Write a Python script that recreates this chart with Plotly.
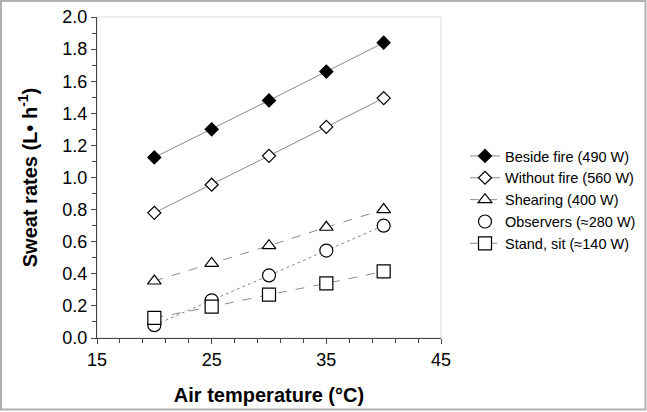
import plotly.graph_objects as go

temps = [20, 25, 30, 35, 40]
beside_fire = [1.125, 1.30, 1.48, 1.66, 1.84]
without_fire = [0.78, 0.955, 1.135, 1.315, 1.495]
shearing = [0.355, 0.465, 0.575, 0.69, 0.80]
observers = [0.08, 0.235, 0.39, 0.545, 0.70]
stand_sit = [0.125, 0.195, 0.27, 0.34, 0.415]

names = ["Beside fire (490 W)", "Without fire (560 W)", "Shearing (400 W)",
         "Observers (\u2248280 W)", "Stand, sit (\u2248140 W)"]

W, H = 647, 412
L, R, T, B = 97, 206, 17, 74
pw, ph = W - L - R, H - T - B

fig = go.Figure()
specs = [
    (beside_fire, "diamond", "black", 10, "solid"),
    (without_fire, "diamond", "white", 10, "solid"),
    (shearing, "triangle-up", "white", 12, "dash"),
    (observers, "circle", "white", 13, "dot"),
    (stand_sit, "square", "white", 13, "dash"),
]
for (vals, sym, fill, size, dash), name in zip(specs, names):
    if dash == "dot":
        # line drawn separately so the legend shows the marker only
        fig.add_trace(go.Scatter(x=temps, y=vals, mode="lines", showlegend=False,
                                 line=dict(color="#8c8c8c", width=1, dash=dash),
                                 hoverinfo="skip"))
        fig.add_trace(go.Scatter(
            x=temps, y=vals, name=name, mode="markers",
            marker=dict(symbol=sym, size=size, color=fill,
                        line=dict(color="black", width=1.2)),
        ))
        continue
    fig.add_trace(go.Scatter(
        x=temps, y=vals, name=name, mode="lines+markers",
        line=dict(color="#8c8c8c", width=1, dash=dash),
        marker=dict(symbol=sym, size=size, color=fill,
                    line=dict(color="black", width=1.2)),
    ))

fig.update_layout(
    width=W, height=H,
    margin=dict(l=L, r=R, t=T, b=B, pad=0, autoexpand=False),
    paper_bgcolor="white", plot_bgcolor="white",
    font=dict(family="Liberation Sans, Arial, sans-serif", color="black"),
    showlegend=True,
    legend=dict(x=(465 - L) / pw, y=(338 - 140) / ph, xanchor="left", yanchor="top",
                font=dict(size=14.5), bgcolor="rgba(0,0,0,0)", tracegroupgap=0),
    xaxis=dict(range=[15, 45], tickvals=[15, 25, 35, 45], showgrid=False, zeroline=False,
               showline=True, linecolor="#444", linewidth=1, ticks="outside",
               ticklen=5, tickcolor="#444", tickfont=dict(size=18),
               minor=dict(dtick=2, tick0=15, ticks="outside", ticklen=4, tickcolor="#444"),
               title=dict(text="<b>Air temperature (\u00b0C)</b>", font=dict(size=20), standoff=19)),
    yaxis=dict(range=[0, 2.0], dtick=0.2, tickformat=".1f", showgrid=False, zeroline=False,
               showline=True, linecolor="#444", linewidth=1, ticks="outside",
               ticklen=5, tickcolor="#444", tickfont=dict(size=18),
               minor=dict(dtick=0.1, ticks="outside", ticklen=4, tickcolor="#444"),
               title=dict(text="<b>Sweat rates (L\u2022 h<sup>-1</sup>)</b>", font=dict(size=20), standoff=19)),
)

# light plot-area frame
fig.add_shape(type="rect", xref="paper", yref="paper", x0=0, y0=0, x1=1, y1=1,
              line=dict(color="#d8d8d8", width=1), layer="below")
# outer image border
fig.add_shape(type="rect", xref="paper", yref="paper",
              x0=(1 - L) / pw, x1=(645.5 - L) / pw,
              y0=(338 - 409.5) / ph, y1=(338 - 1) / ph,
              line=dict(color="#b0b0b0", width=2))

fig.write_html("out.html", config={"displayModeBar": False},
               post_script="document.body.style.margin='0';document.body.style.overflow='hidden';")
